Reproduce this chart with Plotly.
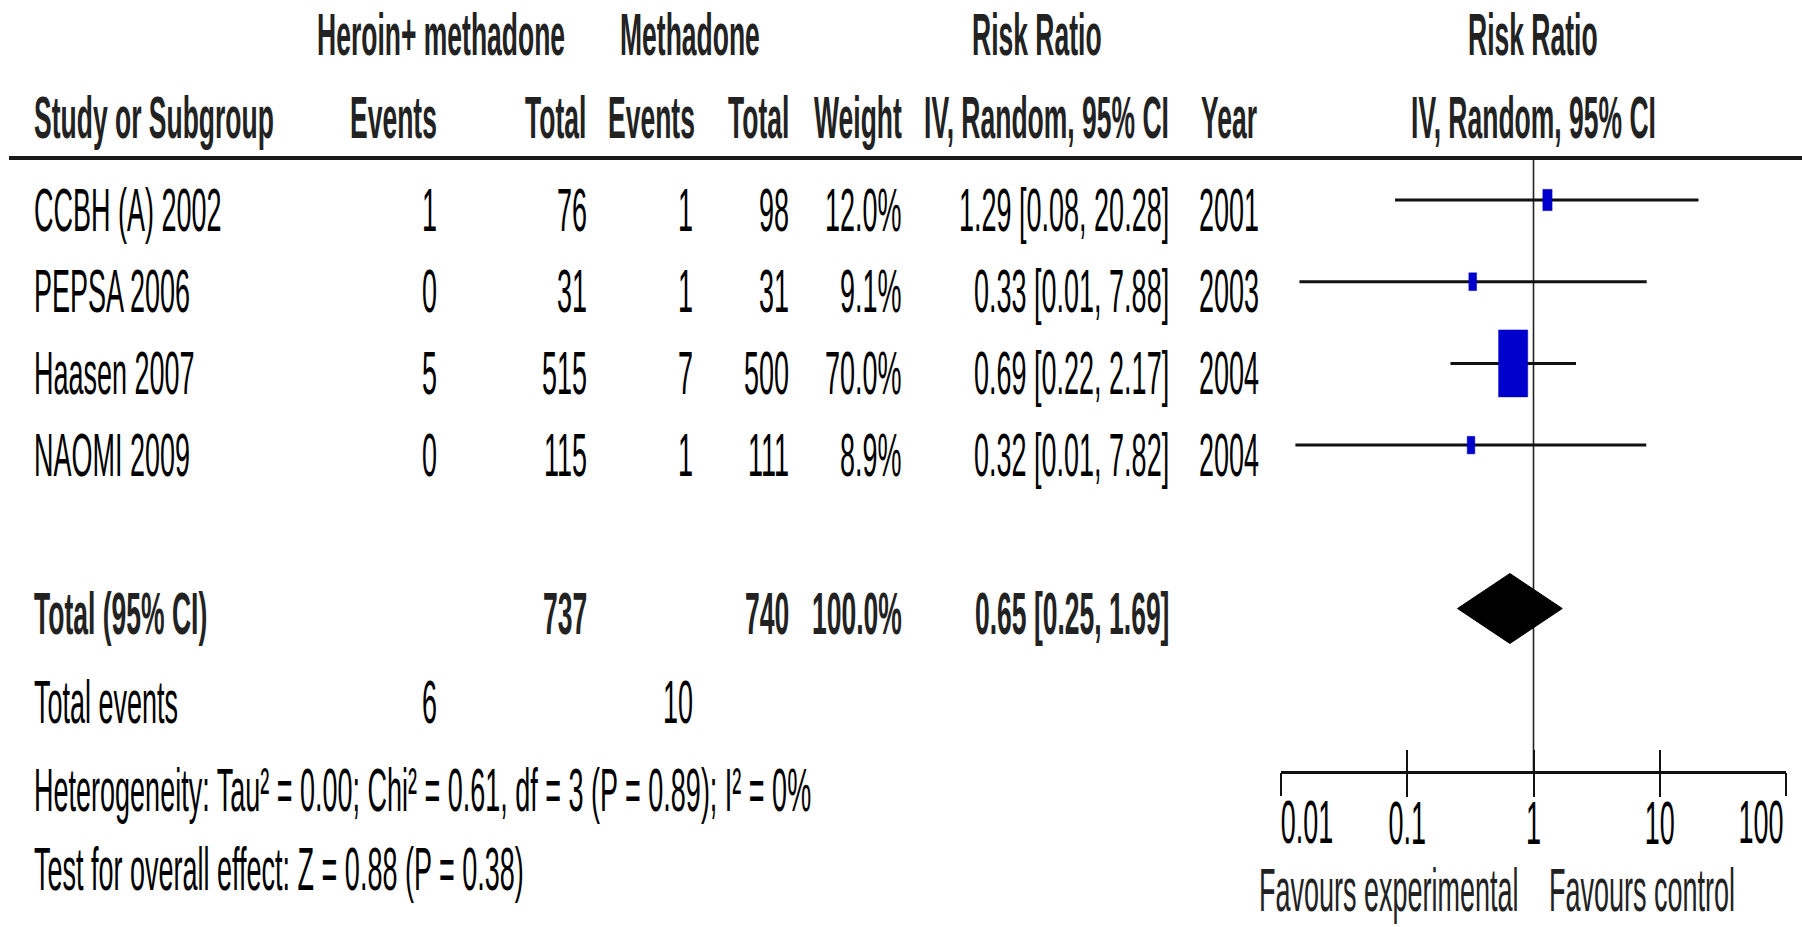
import plotly.graph_objects as go

W, H = 1802, 927

# ---------------- data ----------------
studies = ["CCBH (A) 2002", "PEPSA 2006", "Haasen 2007", "NAOMI 2009"]
hm_events = [1, 0, 5, 0]
hm_total = [76, 31, 515, 115]
m_events = [1, 1, 7, 1]
m_total = [98, 31, 500, 111]
weights = [12.0, 9.1, 70.0, 8.9]
rr = [1.29, 0.33, 0.69, 0.32]
ci_low_label = ["0.08", "0.01", "0.22", "0.01"]
ci_low = [0.08, 0.014, 0.22, 0.013]   # line ends as drawn (unrounded)
ci_high = [20.28, 7.88, 2.17, 7.82]
years = [2001, 2003, 2004, 2004]

total_hm = 737
total_m = 740
total_weight = 100.0
pooled_rr = 0.65
pooled_low = 0.25
pooled_high = 1.69
events_hm = 6
events_m = 10
heterogeneity_text = "Heterogeneity: Tau² = 0.00; Chi² = 0.61, df = 3 (P = 0.89); I² = 0%"
overall_text = "Test for overall effect: Z = 0.88 (P = 0.38)"

tick_vals = [0.01, 0.1, 1, 10, 100]
tick_text = ["0.01", "0.1", "1", "10", "100"]
favours_left = "Favours experimental"
favours_right = "Favours control"

# ---------------- layout geometry ----------------
ROW0 = 200.0      # pixel y of first study row
ROWH = 81.7       # pixel spacing between rows
DEC = 126.25      # pixels per decade on the risk-ratio axis


def row_of(px):
    return (px - ROW0) / ROWH


FONT = "Liberation Sans, Arial, sans-serif"
FS = 27
FSB = 26.5
TXT = "#000000"
HDR = "#222222"

fig = go.Figure()


def txt(s, xpx, row, anchor="left", bold=False, size=None, color=None):
    fig.add_annotation(
        text=("<b>%s</b>" % s) if bold else s,
        x=xpx / W, xref="paper", y=row, yref="y",
        xanchor=anchor, yanchor="middle", showarrow=False,
        font=dict(family=FONT, size=size or (FSB if bold else FS), color=color or (HDR if bold else TXT)),
    )


# header rows
txt("Heroin+ methadone", 315, -2.02, "left", bold=True)
txt("Methadone", 618, -2.02, "left", bold=True)
txt("Risk Ratio", 1037, -2.02, "center", bold=True)
txt("Risk Ratio", 1533, -2.02, "center", bold=True)

txt("Study or Subgroup", 32, -1.0, "left", bold=True)
txt("Events", 439, -1.0, "right", bold=True)
txt("Total", 588, -1.0, "right", bold=True)
txt("Events", 697, -1.0, "right", bold=True)
txt("Total", 791, -1.0, "right", bold=True)
txt("Weight", 904, -1.0, "right", bold=True)
txt("IV, Random, 95% CI", 1171, -1.0, "right", bold=True)
txt("Year", 1199, -1.0, "left", bold=True)
txt("IV, Random, 95% CI", 1533, -1.0, "center", bold=True)

# study rows
for i, name in enumerate(studies):
    r = i + 0.13
    txt(name, 32, r, "left")
    txt(str(hm_events[i]), 439, r, "right")
    txt(str(hm_total[i]), 589, r, "right")
    txt(str(m_events[i]), 695, r, "right")
    txt(str(m_total[i]), 791, r, "right")
    txt("%.1f%%" % weights[i], 904, r, "right")
    txt("%.2f [%s, %.2f]" % (rr[i], ci_low_label[i], ci_high[i]), 1171, r, "right")
    txt(str(years[i]), 1197, r, "left")

# total rows
rt = 5.07
txt("Total (95% CI)", 32, rt, "left", bold=True)
txt(str(total_hm), 589, rt, "right", bold=True)
txt(str(total_m), 791, rt, "right", bold=True)
txt("%.1f%%" % total_weight, 904, rt, "right", bold=True)
txt("%.2f [%.2f, %.2f]" % (pooled_rr, pooled_low, pooled_high), 1171, rt, "right", bold=True)

re_ = 6.16
txt("Total events", 32, re_, "left")
txt(str(events_hm), 439, re_, "right")
txt(str(events_m), 695, re_, "right")
txt(heterogeneity_text, 32, 7.23, "left")
txt(overall_text, 32, 8.2, "left")

txt(favours_left, 1521, 8.46, "right", color="#222222")
txt(favours_right, 1547, 8.46, "left", color="#222222")

# header rule
fig.add_shape(type="line", xref="paper", yref="y", x0=9 / W, x1=1, y0=row_of(158), y1=row_of(158),
              line=dict(color="#1a1a1a", width=4))

# line of no effect
fig.add_trace(go.Scatter(x=[1, 1], y=[row_of(158), row_of(772)], mode="lines",
                         line=dict(color="#222222", width=1.6), hoverinfo="skip", showlegend=False))

# confidence intervals
for i in range(len(studies)):
    fig.add_trace(go.Scatter(x=[ci_low[i], ci_high[i]], y=[i, i], mode="lines",
                             line=dict(color="#111111", width=3), hoverinfo="skip", showlegend=False))

# weight boxes (height grows with weight, tall aspect as in the original)
for i in range(len(studies)):
    h_px = 67.0 * (weights[i] / 70.0) ** 0.65
    w_px = h_px / 2.3
    dx = 10 ** (w_px / 2 / DEC)
    dy = h_px / 2 / ROWH
    xs = [rr[i] / dx, rr[i] * dx, rr[i] * dx, rr[i] / dx, rr[i] / dx]
    ys = [i - dy, i - dy, i + dy, i + dy, i - dy]
    fig.add_trace(go.Scatter(x=xs, y=ys, mode="lines", fill="toself", fillcolor="#0000CC",
                             line=dict(color="#0000CC", width=0.5), hoverinfo="skip", showlegend=False))

# pooled diamond
dh = 35.0 / ROWH
fig.add_trace(go.Scatter(
    x=[pooled_low, pooled_rr, pooled_high, pooled_rr, pooled_low],
    y=[5, 5 - dh, 5, 5 + dh, 5], mode="lines", fill="toself", fillcolor="#000000",
    line=dict(color="#000000", width=1), hoverinfo="skip", showlegend=False))

# dummy traces so overlay axes exist
for ax in ["x2", "x3", "x4"]:
    fig.add_trace(go.Scatter(x=[1], y=[0], xaxis=ax, yaxis="y", mode="markers",
                             marker=dict(opacity=0), hoverinfo="skip", showlegend=False))

axis_pos = 1 - 772 / H
dom = [1281 / W, 1786 / W]
base_ax = dict(type="log", range=[-2, 2], domain=dom, anchor="free", position=axis_pos,
               showgrid=False, zeroline=False, fixedrange=True,
               tickfont=dict(family=FONT, size=FS, color=TXT),
               tickcolor="#111111", tickwidth=2)

fig.update_layout(
    width=W, height=H, margin=dict(l=0, r=0, t=0, b=0),
    paper_bgcolor="white", plot_bgcolor="white", showlegend=False,
    xaxis=dict(base_ax, tickvals=tick_vals[1:4], ticktext=tick_text[1:4], ticks="outside", ticklen=23,
               showline=True, linecolor="#111111", linewidth=3, ticklabelstandoff=3),
    xaxis2=dict(base_ax, overlaying="x", tickvals=tick_vals, ticks="inside", ticklen=22,
                showticklabels=False, showline=False),
    xaxis3=dict(base_ax, overlaying="x", tickvals=tick_vals[:1], ticktext=tick_text[:1], ticks="outside",
                ticklen=23, showline=False, ticklabelstandoff=3, ticklabelshift=26),
    xaxis4=dict(base_ax, overlaying="x", tickvals=tick_vals[4:], ticktext=tick_text[4:], ticks="outside",
                ticklen=23, showline=False, ticklabelstandoff=3, ticklabelshift=-25),
    yaxis=dict(range=[row_of(H), row_of(0)], domain=[0, 1], visible=False, showgrid=False,
               zeroline=False, fixedrange=True),
)

# The original image is horizontally condensed: stretch every text vertically about its own centre.
stretch_js = """
var gd = document.getElementById('{plot_id}');
document.body.style.margin = '0';
document.body.style.overflow = 'hidden';
var K = 2.25;
gd.querySelectorAll('svg text').forEach(function (t) {
  if (!t.textContent) return;
  var b = t.getBBox();
  var cy = b.y + b.height / 2;
  var tr = t.getAttribute('transform') || '';
  t.setAttribute('transform', tr + ' translate(0,' + cy + ') scale(1,' + K + ') translate(0,' + (-cy) + ')');
});
"""

fig.write_html("out.html", post_script=stretch_js, config={"displayModeBar": False})
